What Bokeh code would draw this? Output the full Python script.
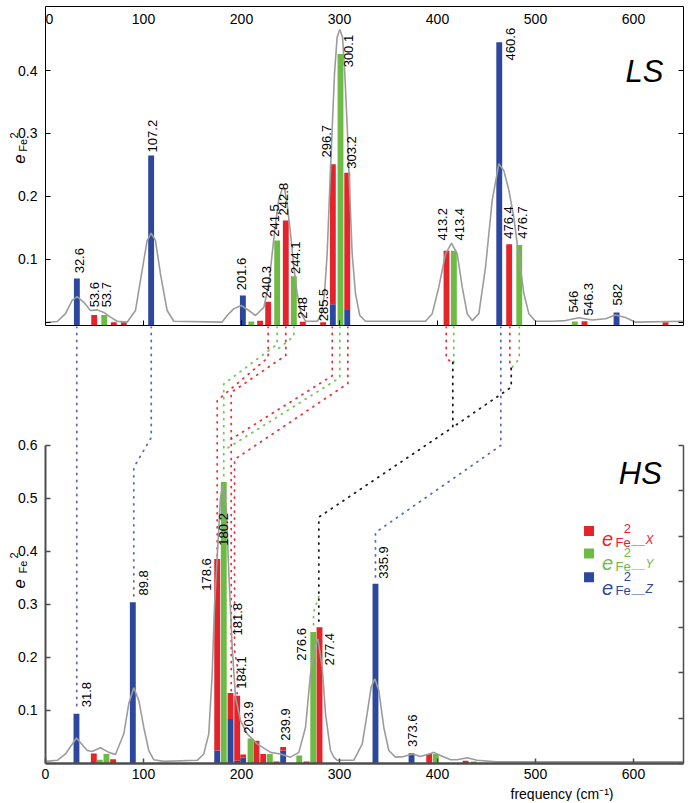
import numpy as np
from bokeh.plotting import figure
from bokeh.models import ColumnDataSource, FixedTicker, LinearAxis, Label, LabelSet, Range1d
from bokeh.layouts import column, row
from bokeh.embed import file_html
from bokeh.resources import INLINE
from bokeh.core.properties import value

FONT = "Liberation Sans"
RED, GREEN, BLUE = "#e4232b", "#6dbb45", "#2c479d"
GREY = "#9c9c9c"
AXG = "#4d4d4d"

# ---------------- LS (low spin) data ----------------
# bar positions (cm-1, as drawn), and the x / y / z components of e_Fe^2
ls_pos = [32.0, 49.7, 59.9, 69.7, 79.9, 107.8, 201.4, 210.0, 219.0, 227.2, 236.4, 245.2, 253.4,
          262.6, 283.3, 293.2, 301.0, 307.9, 409.2, 416.7, 463.0, 473.1, 483.4, 540.1, 550.0,
          582.7, 632.7]
ls_x = [0, 0.012, 0, 0.0005, 0.0005, 0, 0, 0, 0.0027, 0.033, 0, 0.162, 0,
        0.001, 0.0005, 0.222, 0, 0.2176, 0.114, 0, 0, 0.124, 0, 0, 0.002,
        0, 0.0005]
ls_y = [0, 0, 0.012, 0, 0, 0, 0, 0.0016, 0, 0, 0.130, 0, 0.0735,
        0, 0, 0, 0.426, 0, 0, 0.114, 0, 0, 0.123, 0.0015, 0,
        0, 0]
ls_z = [0.070, 0, 0, 0, 0, 0.265, 0.043, 0, 0, 0, 0, 0, 0,
        0, 0, 0.029, 0, 0.020, 0, 0, 0.445, 0, 0, 0, 0,
        0.016, 0]

ls_label_text = ["32.6", "53.6", "53.7", "107.2", "201.6", "240.3", "241.5", "242.8", "244.1",
                 "248", "285.5", "296.7", "300.1", "303.2", "413.2", "413.4", "460.6", "476.4",
                 "476.7", "546", "546.3", "582"]
ls_label_x = [34.7, 50.3, 62.0, 108.9, 200.5, 225.8, 234.0, 243.3, 255.1, 262.6, 284.0, 287.0,
              309.5, 312.6, 404.8, 422.4, 474.5, 472.8, 486.4, 539.1, 554.4, 583.4]
ls_label_y = [0.078, 0.024, 0.024, 0.270, 0.051, 0.038, 0.136, 0.170, 0.077, 0.006, 0.002, 0.262,
              0.405, 0.244, 0.130, 0.130, 0.416, 0.133, 0.133, 0.016, 0.011, 0.027]

ls_curve_x = [0, 12, 20.4, 27.2, 32.3, 39.1, 45.9, 52.8, 59.5, 66.3, 73.1, 83.3, 91.8, 96.9, 103.7,
              107.8, 112.2, 117.3, 124.1, 130.9, 180, 185.4, 192.2, 199.7, 207.5, 214.3, 222.8,
              227.9, 231.3, 234.7, 238.1, 241.5, 243.9, 246.6, 250, 253.4, 256.8, 260.9, 265.3,
              277.2, 281.3, 284.7, 287.4, 290.1, 292.6, 294.9, 297.6, 300.3, 303.1, 305.4, 307.9,
              310.2, 312.9, 316.3, 320.7, 326.5, 387.8, 394.6, 401.3, 408.2, 414.3, 420.1, 425.2,
              430.3, 435.4, 442.2, 449, 455.8, 462.6, 467.7, 472.8, 477.9, 483, 488.1, 493.2, 500,
              517, 530.6, 544.2, 557.9, 571.4, 581.6, 591.8, 602, 651]
ls_curve_y = [0.0, 0.0016, 0.014, 0.035, 0.041, 0.032, 0.019, 0.020, 0.016, 0.0084, 0.002, 0.0005,
              0.019, 0.067, 0.130, 0.142, 0.130, 0.077, 0.019, 0.002, 0.0005, 0.011, 0.022, 0.027,
              0.019, 0.011, 0.024, 0.061, 0.109, 0.157, 0.196, 0.212, 0.212, 0.188, 0.141, 0.088,
              0.046, 0.014, 0.002, 0.002, 0.011, 0.046, 0.109, 0.215, 0.310, 0.395, 0.453, 0.465,
              0.453, 0.395, 0.310, 0.215, 0.109, 0.046, 0.011, 0.002, 0.002, 0.014, 0.056, 0.109,
              0.126, 0.109, 0.056, 0.014, 0.003, 0.014, 0.088, 0.194, 0.252, 0.241, 0.210, 0.167,
              0.104, 0.046, 0.014, 0.002, 0.002, 0.003, 0.0075, 0.004, 0.006, 0.012, 0.008, 0.0005,
              0.002]

# ---------------- HS (high spin) data ----------------
hs_pos = [31.6, 49.3, 55.4, 62.2, 69.0, 89.1, 175.2, 181.9, 188.8, 195.6, 201.7, 209.2, 215.3,
          222.1, 228.9, 235.7, 242.5, 258.9, 266.3, 273.2, 279.6, 336.7, 373.5, 391.5, 398.3,
          428.6, 437.1]
hs_x = [0, 0.019, 0, 0, 0.008, 0, 0.3615, 0, 0.049, 0.123, 0.006, 0, 0.043,
        0.018, 0, 0.004, 0.0065, 0, 0.004, 0, 0.257, 0, 0, 0.018, 0,
        0.005, 0]
hs_y = [0, 0, 0.007, 0.018, 0, 0, 0, 0.531, 0, 0, 0, 0.047, 0,
        0, 0.018, 0, 0, 0.015, 0, 0.248, 0, 0, 0, 0, 0.018,
        0, 0.004]
hs_z = [0.094, 0, 0, 0, 0, 0.304, 0.0245, 0, 0.084, 0.005, 0.011, 0, 0,
        0, 0, 0, 0.0245, 0, 0, 0, 0, 0.339, 0.0195, 0, 0,
        0, 0]

hs_label_text = ["31.8", "89.8", "178.6", "180.2", "181.8", "184.1", "203.9", "239.9", "276.6",
                 "277.4", "335.9", "373.6"]
hs_label_x = [41.7, 99.5, 164.0, 182.0, 196.4, 199.8, 207.5, 244.9, 261.0, 290.0, 345.2, 374.5]
hs_label_y = [0.106, 0.317, 0.326, 0.411, 0.2415, 0.141, 0.056, 0.043, 0.194, 0.185, 0.3485, 0.031]

hs_curve_x = [0, 12, 20.4, 31.6, 42.5, 47.6, 56.1, 64.6, 71.4, 79.9, 85, 90.1, 95.2, 100.3, 105.4,
              110.5, 120.7, 154.8, 161.5, 166.6, 170.1, 172.4, 175.2, 178.6, 180.9, 184.4, 187.1,
              190.5, 193.9, 199, 205.8, 216, 229.6, 239.8, 250, 258.5, 265.3, 270.4, 274.5, 277.9,
              282.3, 285.7, 290.8, 294.2, 297.6, 314.6, 323.2, 328.2, 332.3, 336, 340.1, 345.2,
              350.3, 357.1, 365.6, 374.2, 382.7, 392.9, 396.2, 403.1, 413.3, 420.1, 430.3, 440.5,
              460, 651]
hs_curve_y = [0.004, 0.006, 0.018, 0.048, 0.0245, 0.0226, 0.0296, 0.021, 0.017, 0.056, 0.113, 0.143,
              0.119, 0.068, 0.0245, 0.007, 0.004, 0.006, 0.018, 0.056, 0.169, 0.295, 0.389, 0.502,
              0.525, 0.484, 0.358, 0.219, 0.125, 0.081, 0.056, 0.037, 0.021, 0.018, 0.012, 0.021,
              0.068, 0.169, 0.219, 0.235, 0.182, 0.094, 0.0245, 0.012, 0.006, 0.006, 0.037, 0.094,
              0.144, 0.160, 0.138, 0.068, 0.0245, 0.012, 0.013, 0.018, 0.013, 0.019, 0.021, 0.015,
              0.007, 0.007, 0.011, 0.006, 0.003, 0.003]

freq_ticks = [0, 100, 200, 300, 400, 500, 600]
ls_yticks = [0.1, 0.2, 0.3, 0.4]
ls_side_ticks = [0.0, 0.1, 0.2, 0.3, 0.4]
hs_yticks = [0.1, 0.2, 0.3, 0.4, 0.5, 0.6]
hs_right_ticks = [0.6 * k / 7 for k in range(8)]

X_MAX = 651.0
LS_YMIN, LS_YMAX = -0.0048, 0.5016
HS_YMIN, HS_YMAX = 0.0, 0.8245
TOP = HS_YMAX

# dotted correlation lines LS -> HS (in HS panel units)
conn_color = ["#5b6bb5", "#5b6bb5", "#e8323b", "#78c257", "#e8323b", "#78c257", "#e8323b",
              "#78c257", "#e8323b", "#e8323b", "#78c257", "#1a1a1a", "#78c257", "#e8323b",
              "#78c257", "#1a1a1a", "#5b6bb5"]
conn_xs = [[31.9, 31.9], [107.9, 107.9, 90.1, 90.1], [227.2, 227.2, 175.2, 175.2],
           [236.4, 236.4, 181.9, 181.9], [245.2, 245.2, 189.5, 189.5], [253.4, 253.4, 236.4],
           [292.6, 292.6, 189.5], [300.3, 300.3, 181.9],
           [308.5, 308.5, 192.9, 192.9, 195.6, 195.6], [408.9, 408.9, 415.6], [416.6, 416.6],
           [415.6, 415.6, 278.9, 278.9], [278.9, 273.5, 273.5], [473.8, 473.8, 475.2],
           [483.4, 483.4, 475.2], [475.2, 475.2, 415.6], [464.6, 464.6, 336.7, 336.7]]
conn_ys = [[TOP, 0.10], [TOP, 0.615, 0.5585, 0.3075], [TOP, 0.766, 0.685, 0.391],
           [TOP, 0.791, 0.716, 0.534], [TOP, 0.770, 0.700, 0.136], [TOP, 0.806, 0.781],
           [TOP, 0.7315, 0.612], [TOP, 0.728, 0.5906],
           [TOP, 0.717, 0.5736, 0.2132, 0.185, 0.132], [TOP, 0.7636, 0.7566], [TOP, 0.7566],
           [0.7566, 0.6345, 0.4647, 0.2604], [0.3151, 0.2849, 0.251], [TOP, 0.7542, 0.7453],
           [TOP, 0.764, 0.7453], [0.7453, 0.710, 0.6345], [TOP, 0.600, 0.4358, 0.3453]]

legend_colors = [RED, GREEN, BLUE]
legend_tags = ["__X", "__Y", "__Z"]

BAR_W = 6.0
LAB_W = 42          # width of the strip that holds the y tick labels / y title
P_W = 646           # width of each plot figure
TOP_H = 326
BOT_BORDER = 2
BOT_H = 437 + BOT_BORDER
XLAB_H = 36
PX_PER_CM = 0.98    # horizontal scale of the panels (px per cm-1)


def draw_bars(p, pos, xs, ys, zs, base):
    pos = np.array(pos, dtype=float)
    x = np.array(xs, dtype=float)
    y = np.array(ys, dtype=float)
    z = np.array(zs, dtype=float)
    z_bot = np.full_like(z, base)
    x_bot = np.where(z > 0, z, base)
    y_bot = np.where(z + x > 0, z + x, base)
    for comp, bot, top, col in ((z, z_bot, z, BLUE), (x, x_bot, z + x, RED),
                                (y, y_bot, z + x + y, GREEN)):
        m = comp > 0
        p.vbar(x=pos[m], bottom=bot[m], top=top[m], width=BAR_W, fill_color=col,
               line_color=None)


def tick_only_axis(ax, ticks, line_color=None, line_width=1, tick_color="black",
                   tick_width=1, bounds=None):
    ax.ticker = FixedTicker(ticks=[], minor_ticks=ticks)
    ax.major_tick_line_color = None
    ax.minor_tick_in = 5
    ax.minor_tick_out = 0
    ax.minor_tick_line_color = tick_color
    ax.minor_tick_line_width = tick_width
    ax.axis_line_color = line_color
    ax.axis_line_width = line_width
    ax.major_label_standoff = 0
    if bounds is not None:
        ax.bounds = bounds


def label_strip(y_range, height, border_top, border_bottom, ticks, e_y, fe_y, two_y):
    s = figure(width=LAB_W, height=height, x_range=Range1d(0, LAB_W), y_range=y_range,
               output_backend="svg", toolbar_location=None, x_axis_location=None,
               y_axis_location=None, min_border_left=0, min_border_right=0,
               min_border_top=border_top, min_border_bottom=border_bottom,
               outline_line_color=None, background_fill_color="white",
               border_fill_color="white")
    s.grid.visible = False
    s.text(x=[37] * len(ticks), y=ticks, text=[f"{t:.1f}" for t in ticks], text_align="right",
           text_baseline="middle", text_font=value(FONT), text_font_size="14px",
           text_color="black")
    s.text(x=[18.3], y=[e_y], text=["e"], angle=np.pi / 2, text_align="left",
           text_baseline="alphabetic", text_font=value(FONT), text_font_style="italic",
           text_font_size="17px", text_color="black")
    s.text(x=[22.0], y=[fe_y], text=["Fe"], angle=np.pi / 2, text_align="left",
           text_baseline="alphabetic", text_font=value(FONT), text_font_size="11px",
           text_color="black")
    s.text(x=[13.0], y=[two_y], text=["2"], angle=np.pi / 2, text_align="left",
           text_baseline="alphabetic", text_font=value(FONT), text_font_size="11px",
           text_color="black")
    return s


# ---------------- top panel (LS) ----------------
p1 = figure(width=P_W, height=TOP_H, x_range=Range1d(0, X_MAX),
            y_range=Range1d(LS_YMIN, LS_YMAX), output_backend="svg", toolbar_location=None,
            min_border_left=3, min_border_right=5, min_border_top=6, min_border_bottom=1,
            outline_line_color="black", outline_line_width=1,
            background_fill_color="white", border_fill_color="white")
p1.grid.visible = False
tick_only_axis(p1.xaxis[0], freq_ticks[1:])
tick_only_axis(p1.yaxis[0], ls_side_ticks)
r1 = LinearAxis()
tick_only_axis(r1, ls_side_ticks)
p1.add_layout(r1, "right")

draw_bars(p1, ls_pos, ls_x, ls_y, ls_z, LS_YMIN)
p1.line(ls_curve_x, ls_curve_y, line_color=GREY, line_width=1.6)
p1.text(x=ls_label_x, y=ls_label_y, text=ls_label_text, angle=np.pi / 2, text_align="left",
        text_baseline="middle", text_font=value(FONT), text_font_size="13px",
        text_color="black")
top_src = ColumnDataSource(dict(x=freq_ticks, y=[0.481] * len(freq_ticks),
                                t=[str(v) for v in freq_ticks],
                                dx=[4] + [0] * (len(freq_ticks) - 1)))
p1.add_layout(LabelSet(x="x", y="y", text="t", x_offset="dx", source=top_src,
                       text_align="center", text_baseline="middle", text_font=value(FONT),
                       text_font_size="14px", text_color="black"))
p1.add_layout(Label(x=591.8, y=0.399, text="LS", text_font=FONT, text_font_style="italic",
                    text_font_size="31px", text_align="left", text_baseline="alphabetic",
                    text_color="black"))

lab1 = label_strip(p1.y_range, TOP_H, 6, 1, ls_yticks, 0.252, 0.271, 0.292)

# ---------------- bottom panel (HS) ----------------
p2 = figure(width=P_W, height=BOT_H, x_range=p1.x_range, y_range=Range1d(HS_YMIN, HS_YMAX),
            output_backend="svg", toolbar_location=None, min_border_left=3, min_border_right=5,
            min_border_top=0, min_border_bottom=BOT_BORDER, outline_line_color=None,
            background_fill_color="white", border_fill_color="white")
p2.grid.visible = False
tick_only_axis(p2.xaxis[0], freq_ticks, line_color=AXG, line_width=2.5, tick_color=AXG,
               tick_width=1.5)
tick_only_axis(p2.yaxis[0], hs_yticks, line_color=AXG, line_width=2, tick_color=AXG,
               tick_width=1.5, bounds=(0, 0.6))
r2 = LinearAxis()
tick_only_axis(r2, hs_right_ticks, line_color=AXG, line_width=1.5, tick_color=AXG,
               tick_width=1.5, bounds=(0, 0.6))
p2.add_layout(r2, "right")

p2.multi_line(xs=conn_xs, ys=conn_ys, line_color=conn_color, line_width=1.8,
              line_dash="1 6", line_cap="round")
draw_bars(p2, hs_pos, hs_x, hs_y, hs_z, HS_YMIN)
p2.line(hs_curve_x, hs_curve_y, line_color=GREY, line_width=1.6)
p2.text(x=hs_label_x, y=hs_label_y, text=hs_label_text, angle=np.pi / 2, text_align="left",
        text_baseline="middle", text_font=value(FONT), text_font_size="13px",
        text_color="black")
p2.add_layout(Label(x=585.0, y=0.5466, text="HS", text_font=FONT, text_font_style="italic",
                    text_font_size="31px", text_align="left", text_baseline="alphabetic",
                    text_color="black"))

# legend
leg_sq_y = [0.4387, 0.3962, 0.3515]
leg_e_y = [0.424, 0.3774, 0.332]
leg_fe_y = [0.4175, 0.3719, 0.3264]
leg_2_y = [0.4434, 0.3977, 0.3523]
leg_tag_y = [0.4208, 0.3755, 0.330]
p2.scatter(x=[554.6] * 3, y=leg_sq_y, marker="square", size=10, fill_color=legend_colors,
           line_color=None)
p2.text(x=[567.9] * 3, y=leg_e_y, text=["e"] * 3, text_font=value(FONT),
        text_font_style="italic", text_font_size="20px", text_color=legend_colors,
        text_align="left", text_baseline="alphabetic")
p2.text(x=[581.6] * 3, y=leg_fe_y, text=["Fe"] * 3, text_font=value(FONT),
        text_font_size="13px", text_color=legend_colors, text_align="left",
        text_baseline="alphabetic")
p2.text(x=[590.0] * 3, y=leg_2_y, text=["2"] * 3, text_font=value(FONT),
        text_font_size="13px", text_color=legend_colors, text_align="left",
        text_baseline="alphabetic")
p2.text(x=[598.7] * 3, y=leg_tag_y, text=legend_tags, text_font=value(FONT),
        text_font_style="italic", text_font_size="12px", text_color=legend_colors,
        text_align="left", text_baseline="alphabetic")

lab2 = label_strip(p2.y_range, BOT_H, 0, BOT_BORDER, hs_yticks, 0.330, 0.3585, 0.387)

# x tick labels and x title strip (same cm-1 scale as the panels, extended to the page edges)
XL_W = LAB_W + P_W
x0 = -(LAB_W + 3) / PX_PER_CM
xlab = figure(width=XL_W, height=XLAB_H, x_range=Range1d(x0, x0 + XL_W / PX_PER_CM),
              y_range=Range1d(0, XLAB_H), output_backend="svg", toolbar_location=None,
              x_axis_location=None, y_axis_location=None, min_border_left=0,
              min_border_right=0, min_border_top=0, min_border_bottom=0,
              outline_line_color=None, background_fill_color="white",
              border_fill_color="white")
xlab.grid.visible = False
xlab.text(x=freq_ticks, y=[XLAB_H - 8] * len(freq_ticks), text=[str(v) for v in freq_ticks],
          text_align="center", text_baseline="middle", text_font=value(FONT),
          text_font_size="14px", text_color="black")
xlab.text(x=[474.5], y=[8], text=["frequency (cm\u207b\u00b9)"], text_align="left",
          text_baseline="alphabetic", text_font=value(FONT), text_font_size="14px",
          text_color="black")

layout = column(row(lab1, p1, spacing=0), row(lab2, p2, spacing=0), xlab, spacing=0)
open("out.html", "w").write(file_html(layout, INLINE))
